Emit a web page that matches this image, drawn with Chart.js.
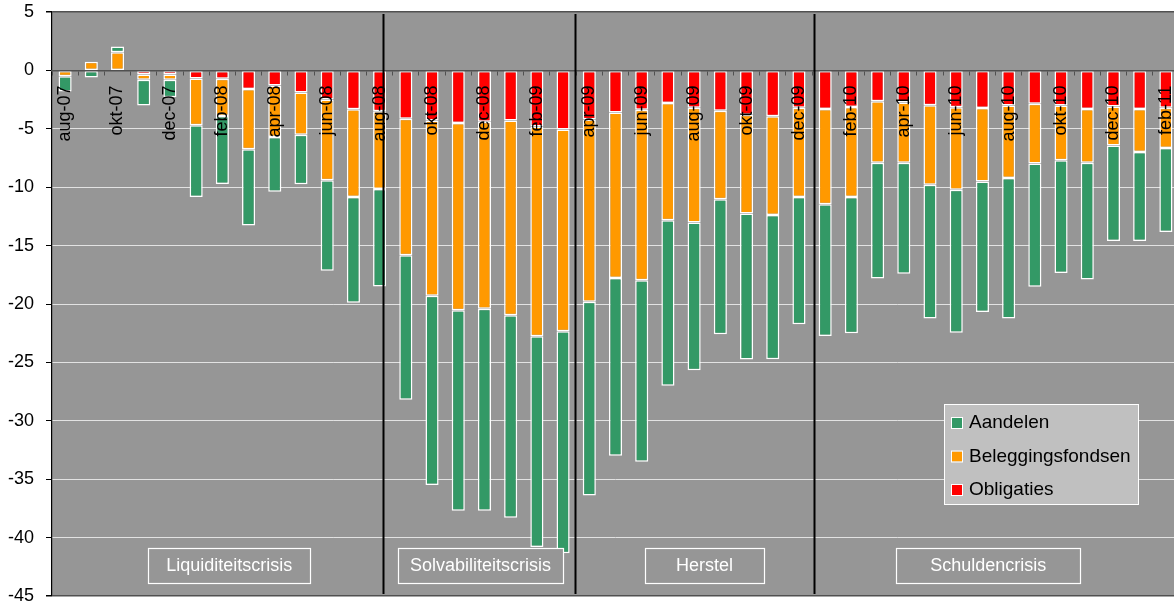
<!DOCTYPE html>
<html>
<head>
<meta charset="utf-8">
<script src="https://cdn.jsdelivr.net/npm/chart.js@4/dist/chart.umd.min.js"></script>
<style>
  html, body { margin: 0; padding: 0; background: #fff; overflow: hidden; }
  #wrap { position: relative; width: 1179px; height: 606px; }
</style>
</head>
<body>
<div id="wrap"><canvas id="myChart"></canvas></div>
<script>
// months on the category axis, a label is shown for every second one
const months = ['aug-07', 'sep-07', 'okt-07', 'nov-07', 'dec-07',
  'jan-08', 'feb-08', 'mrt-08', 'apr-08', 'mei-08', 'jun-08', 'jul-08', 'aug-08', 'sep-08', 'okt-08', 'nov-08', 'dec-08',
  'jan-09', 'feb-09', 'mrt-09', 'apr-09', 'mei-09', 'jun-09', 'jul-09', 'aug-09', 'sep-09', 'okt-09', 'nov-09', 'dec-09',
  'jan-10', 'feb-10', 'mrt-10', 'apr-10', 'mei-10', 'jun-10', 'jul-10', 'aug-10', 'sep-10', 'okt-10', 'nov-10', 'dec-10',
  'jan-11', 'feb-11'];

const obligaties = [0, 0, 0, -0.35, -0.36,
  -0.7, -0.71, -1.6, -1.3, -1.9, -2.5, -3.32, -3.5, -4.15, -4.3, -4.5, -4.4,
  -4.3, -4.8, -5.07, -4.2, -3.6, -3.37, -2.8, -3.2, -3.45, -3.8, -3.93, -3.2,
  -3.3, -3.13, -2.64, -2.75, -2.99, -3.15, -3.22, -3.0, -2.85, -3.0, -3.3, -3.1,
  -3.3, -3.2];

const beleggingsfondsen = [-0.5, 0.75, 1.55, -0.45, -0.44,
  -4.0, -3.19, -5.15, -4.4, -3.6, -6.91, -7.51, -6.65, -11.68, -15.0, -16.03, -16.0,
  -16.66, -17.96, -17.26, -15.6, -14.17, -14.6, -10.03, -9.83, -7.58, -8.46, -8.45, -7.63,
  -8.16, -7.7, -5.26, -5.15, -6.81, -7.06, -6.3, -6.21, -5.13, -4.7, -4.6, -3.32,
  -3.69, -3.45];

const aandelen = [-1.3, -0.6, 0.5, -2.2, -1.5,
  -6.13, -5.82, -6.52, -4.7, -4.25, -7.74, -9.07, -8.35, -12.37, -16.2, -17.17, -17.3,
  -17.34, -18.04, -19.02, -16.6, -15.23, -15.53, -14.17, -12.64, -11.57, -12.49, -12.34, -10.9,
  -11.29, -11.67, -9.92, -9.5, -11.45, -12.26, -11.16, -12.04, -10.55, -9.64, -10.0, -8.18,
  -7.61, -7.18];

const yMin = -45;
const yMax = 5;
const yStep = 5;

// periods: name, centre (category units) and box width
const phaseNames = ['Liquiditeitscrisis', 'Solvabiliteitscrisis', 'Herstel', 'Schuldencrisis'];
const phaseCenters = [6.26, 15.85, 24.4, 35.22];
const phaseWidths = [162, 165, 119, 184];
// vertical separators between the periods (category units)
const dividers = [12.12, 19.46, 28.56];

const FONT = 'Arial, "Liberation Sans", sans-serif';

// x position for a (fractional) category value
function catPixel(scale, v) {
    const p0 = scale.getPixelForValue(0);
    const p1 = scale.getPixelForValue(1);
    return p0 + v * (p1 - p0);
}

const plotBackground = {
    id: 'plotBackground',
    beforeDraw(chart) {
        const { ctx, chartArea: a } = chart;
        ctx.save();
        ctx.fillStyle = '#969696';
        ctx.fillRect(a.left, a.top, a.right - a.left, a.bottom - a.top);
        ctx.restore();
    }
};

const decorations = {
    id: 'decorations',
    afterDraw(chart) {
        const { ctx, chartArea: a } = chart;
        const x = chart.scales.x;

        // period separators
        ctx.save();
        ctx.strokeStyle = '#000';
        ctx.lineWidth = 2;
        dividers.forEach(d => {
            const px = Math.round(catPixel(x, d)) + 0.5;
            ctx.beginPath();
            ctx.moveTo(px, a.top + 2);
            ctx.lineTo(px, a.bottom - 2);
            ctx.stroke();
        });

        // period boxes
        ctx.font = '18px ' + FONT;
        ctx.textAlign = 'center';
        ctx.textBaseline = 'middle';
        phaseNames.forEach((name, i) => {
            const cx = catPixel(x, phaseCenters[i]);
            const w = phaseWidths[i];
            const top = 548, h = 35;
            ctx.fillStyle = '#969696';
            ctx.fillRect(cx - w / 2, top, w, h);
            ctx.strokeStyle = '#fff';
            ctx.lineWidth = 1.2;
            ctx.strokeRect(Math.round(cx - w / 2) + 0.5, top + 0.5, w, h);
            ctx.fillStyle = '#fff';
            ctx.fillText(name, cx, top + h / 2 + 1);
        });

        // legend, top item is the last dataset
        const lx = 944, ly = 404, lw = 194, lh = 100;
        ctx.fillStyle = '#c0c0c0';
        ctx.fillRect(lx, ly, lw, lh);
        ctx.strokeStyle = '#fff';
        ctx.lineWidth = 1;
        ctx.strokeRect(lx + 0.5, ly + 0.5, lw, lh);
        ctx.font = '19px ' + FONT;
        ctx.textAlign = 'left';
        const items = chart.data.datasets.slice().reverse();
        items.forEach((ds, i) => {
            const cy = ly + 18 + i * 33.5;
            ctx.fillStyle = ds.backgroundColor;
            ctx.fillRect(lx + 8, cy - 4, 10, 10);
            ctx.strokeStyle = '#fff';
            ctx.strokeRect(lx + 7.5, cy - 4.5, 11, 11);
            ctx.fillStyle = '#000';
            ctx.fillText(ds.label, lx + 25, cy + 1);
        });
        ctx.restore();
    }
};

function barSet(label, data, color) {
    return {
        label: label,
        data: data,
        backgroundColor: color,
        borderColor: '#ffffff',
        borderWidth: 1.5,
        borderSkipped: false,
        barPercentage: 0.5,
        categoryPercentage: 1
    };
}

const config = {
    type: 'bar',
    data: {
        labels: months,
        datasets: [
            barSet('Obligaties', obligaties, '#ff0000'),
            barSet('Beleggingsfondsen', beleggingsfondsen, '#ff9900'),
            barSet('Aandelen', aandelen, '#339966')
        ]
    },
    options: {
        responsive: true,
        maintainAspectRatio: false,
        animation: false,
        layout: { padding: { top: 12, bottom: 10, left: 0, right: 0 } },
        plugins: {
            legend: { display: false },
            tooltip: { enabled: false }
        },
        scales: {
            x: {
                stacked: true,
                position: { y: 0 },
                offset: true,
                grid: {
                    drawOnChartArea: false,
                    tickLength: 4,
                    tickColor: '#505050',
                    offset: true,
                    z: 1
                },
                border: { color: '#505050', width: 1.5, z: 1 },
                ticks: {
                    z: 1,
                    autoSkip: false,
                    minRotation: 90,
                    maxRotation: 90,
                    padding: 11,
                    color: '#000',
                    font: { family: FONT, size: 18 },
                    callback: (v, i) => (i % 2 === 0 ? months[i] : '')
                },
                afterFit: s => { s.paddingLeft = 0; s.paddingRight = 0; }
            },
            y: {
                stacked: true,
                min: yMin,
                max: yMax,
                grid: {
                    color: c => (c.tick && (c.tick.value === yMax || c.tick.value === yMin)) ? '#505050' : '#e2e2e2',
                    lineWidth: c => (c.tick && (c.tick.value === yMax || c.tick.value === yMin)) ? 1.5 : 1,
                    tickLength: 6,
                    tickColor: '#000'
                },
                border: { color: '#000', width: 1.2 },
                ticks: {
                    stepSize: yStep,
                    padding: 12,
                    color: '#000',
                    font: { family: FONT, size: 18 },
                    callback: v => String(v)
                },
                afterFit: s => { s.width = 52; s.paddingTop = 0; s.paddingBottom = 0; }
            }
        }
    },
    plugins: [plotBackground, decorations]
};

new Chart(document.getElementById('myChart'), config);
</script>
</body>
</html>
